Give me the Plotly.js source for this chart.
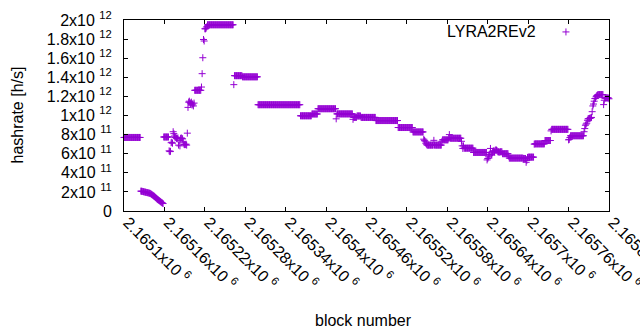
<!DOCTYPE html>
<html>
<head>
<meta charset="utf-8">
<script src="https://cdn.plot.ly/plotly-3.0.1.min.js"></script>
<style>
  html, body { margin: 0; padding: 0; background: #fff; }
  #chart { width: 640px; height: 330px; }
</style>
</head>
<body>
<div id="chart"></div>
<script>
// ---- data (hashrate in units of 1e11 h/s), one value per block, run-length encoded ----
const firstBlock = 2165100;
const runValue = [
  7.70,
  2.08, 2.07, 2.06, 2.04, 2.02, 2.00, 1.99, 1.97, 1.95, 1.93, 1.92, 1.90, 1.88, 1.86, 1.84, 1.79, 1.74,
  1.69, 1.64, 1.59, 1.54, 1.47, 1.40, 1.33, 1.26, 1.20, 1.15, 1.10, 1.05, 0.99, 0.93, 0.88, 0.83, 0.78,
  7.75,
  6.30, 6.22, 6.25, 7.15, 7.20, 7.10, 8.30, 8.10, 7.85, 7.70, 7.75, 7.60, 7.55, 7.65, 6.90, 7.40, 6.82,
  7.60, 7.65, 7.60, 7.55, 7.20, 7.00, 6.95, 6.95, 7.00, 6.90, 8.15, 10.85, 11.40, 11.50, 11.35, 11.25,
  11.40, 11.10,
  11.20, 11.00, 11.30,
  12.64,
  12.98, 14.38, 16.05, 17.96, 17.80, 19.08, 19.08, 19.15, 19.30,
  19.50,
  13.23, 14.17, 14.05, 11.13, 9.97, 10.16, 10.71, 9.65, 10.17, 9.60, 9.80, 9.95, 9.80, 9.47, 8.74, 8.28,
  7.52, 7.40, 7.31, 7.10, 7.00,
  6.90, 7.40, 6.90, 7.30, 7.45, 7.62, 8.00, 7.62,
  7.30, 6.82, 6.55, 6.82,
  6.58, 6.13,
  5.35, 5.50, 5.67, 5.90, 5.95, 6.55, 5.90, 5.85, 6.10, 6.27, 6.30, 6.20, 6.35, 6.40, 6.37, 6.30, 6.20,
  6.20, 6.15,
  6.20, 6.00, 5.75, 5.54, 5.50, 5.10, 5.30, 5.60, 5.64, 7.00, 7.03, 7.38, 8.39, 8.55, 7.45, 7.50, 7.70, 7.88,
  8.30, 8.63, 8.98, 9.10, 9.20, 9.50, 9.65, 9.68, 9.70, 9.72, 9.75, 9.80, 10.40, 11.00, 11.20, 11.50,
  11.77, 11.80, 12.00, 12.10, 12.15,
  12.19, 11.14, 11.60, 11.80, 11.84, 11.75
];
const runLength = [
  25,
  1, 1, 1, 1, 1, 1, 1, 1, 1, 1, 1, 1, 1, 1, 1, 1, 1,
  1, 1, 1, 1, 1, 1, 1, 1, 1, 1, 1, 1, 1, 1, 1, 1, 1,
  8,
  1, 1, 1, 1, 1, 1, 1, 1, 1, 1, 1, 1, 1, 1, 1, 1, 1,
  1, 1, 1, 1, 1, 1, 1, 1, 1, 1, 1, 1, 1, 1, 1, 1,
  1, 1,
  1, 1, 1,
  10,
  1, 1, 1, 1, 1, 1, 1, 1, 1,
  39,
  1, 12, 23, 63, 17, 9, 27, 1, 24, 1, 5, 6, 22, 33, 22, 16,
  1, 1, 1, 1, 1,
  10, 1, 11, 1, 9, 1, 1, 17,
  1, 1, 1, 1,
  14, 20,
  1, 1, 1, 1, 1, 1, 1, 1, 1, 1, 1, 1, 1, 1, 1, 1, 1,
  1, 1,
  4, 9, 1, 21, 4, 1, 1, 1, 9, 1, 15, 9, 1, 25, 1, 1, 1, 20,
  1, 1, 1, 1, 1, 1, 1, 1, 1, 1, 1, 1, 1, 1, 1, 1,
  1, 1, 1, 1, 1,
  8, 1, 1, 1, 5, 1
];
const xTickValues = [2165100, 2165160, 2165220, 2165280, 2165340, 2165400, 2165460,
                     2165520, 2165580, 2165640, 2165700, 2165760, 2165820];
const xTickLabels = ['2.1651x10', '2.16516x10', '2.16522x10', '2.16528x10', '2.16534x10', '2.1654x10',
                     '2.16546x10', '2.16552x10', '2.16558x10', '2.16564x10', '2.1657x10', '2.16576x10',
                     '2.16582x10'];
const xTickExp = '6';
const yTickValues = [0, 2, 4, 6, 8, 10, 12, 14, 16, 18, 20];
const yTickLabels = ['0', '2x10', '4x10', '6x10', '8x10', '1x10', '1.2x10', '1.4x10', '1.6x10', '1.8x10', '2x10'];
const yTickExp = ['', '11', '11', '11', '11', '12', '12', '12', '12', '12', '12'];
const seriesName = 'LYRA2REv2';
const xTitle = 'block number';
const yTitle = 'hashrate [h/s]';

// ---- expand runs into one point per block ----
const blocks = [], hashrate = [];
let b = firstBlock;
for (let i = 0; i < runValue.length; i++) {
  for (let k = 0; k < runLength[i]; k++) { blocks.push(b); hashrate.push(runValue[i]); b++; }
}

const FONT = 'Liberation Sans, Arial, Helvetica, sans-serif';
const PURPLE = '#9400d3';
const sup = (base, e) => e ? base + '\u00a0<sup>' + e + '</sup>' : base;

const trace = {
  type: 'scatter', mode: 'markers', x: blocks, y: hashrate, name: ' ',
  cliponaxis: false, showlegend: true,
  marker: { symbol: 'cross-thin', size: 5, color: PURPLE, line: { color: PURPLE, width: 1 } }
};

const axisCommon = {
  showline: true, linecolor: '#000', linewidth: 1, mirror: 'allticks',
  ticks: 'inside', ticklen: 4, tickwidth: 1, tickcolor: '#000',
  showgrid: false, zeroline: false, fixedrange: true,
  tickfont: { family: FONT, size: 16, color: '#000' }
};

const layout = {
  width: 640, height: 330,
  margin: { l: 124, r: 31, t: 20, b: 119, pad: 0 },
  paper_bgcolor: '#fff', plot_bgcolor: '#fff',
  font: { family: FONT, size: 16, color: '#000' },
  showlegend: true,
  legend: { x: 0.87, y: 0.937, xanchor: 'left', yanchor: 'middle', bgcolor: 'rgba(0,0,0,0)',
            font: { family: FONT, size: 16 } },
  xaxis: Object.assign({}, axisCommon, {
    range: [2165100, 2165820], tickmode: 'array', tickvals: xTickValues,
    ticktext: xTickLabels.map(t => sup(t, xTickExp)), tickangle: 45,
    ticklabeloverflow: 'allow', ticklabelstandoff: -5, ticklabelshift: 4
  }),
  yaxis: Object.assign({}, axisCommon, {
    range: [0, 20], tickmode: 'array', tickvals: yTickValues,
    ticktext: yTickLabels.map((t, i) => sup(t, yTickExp[i])), ticklabelstandoff: 8
  }),
  annotations: [
    { text: xTitle, xref: 'paper', yref: 'paper', x: 0.4948, y: -0.5707, xanchor: 'center', yanchor: 'middle',
      showarrow: false, font: { family: FONT, size: 16, color: '#000' } },
    { text: yTitle, xref: 'paper', yref: 'paper', x: -0.2206, y: 0.5, xanchor: 'center', yanchor: 'middle',
      textangle: -90, showarrow: false, font: { family: FONT, size: 16, color: '#000' } },
    { text: seriesName, xref: 'paper', yref: 'paper', x: 0.8536, y: 0.9372, xanchor: 'right', yanchor: 'middle',
      showarrow: false, font: { family: FONT, size: 16, color: '#000' } }
  ]
};

Plotly.newPlot('chart', [trace], layout, { staticPlot: true, displayModeBar: false });
</script>
</body>
</html>
